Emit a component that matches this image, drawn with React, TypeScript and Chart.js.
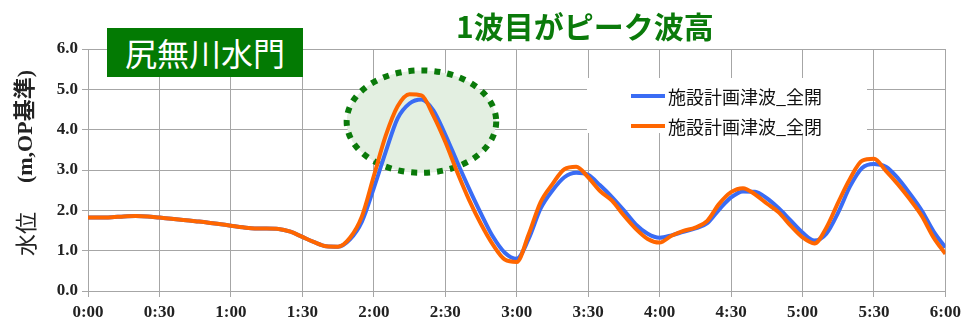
import React, { useEffect, useRef } from "react";
import { Chart, registerables } from "chart.js";

Chart.register(...registerables);

const minutes: number[] = [
  0, 5, 10, 15, 20, 25, 30, 35, 40, 45, 50, 55, 60, 65, 70, 75, 80, 85, 90, 95, 100, 105,
  110, 115, 120, 125, 130, 135, 140, 145, 150, 155, 160, 165, 170, 175, 180, 185, 190, 195,
  200, 205, 210, 215, 220, 225, 230, 235, 240, 245, 250, 255, 260, 265, 270, 275, 280, 285,
  290, 295, 300, 305, 310, 315, 320, 325, 330, 335, 340, 345, 350, 355, 360,
];

const seriesOpen: number[] = [
  1.82, 1.82, 1.83, 1.85, 1.86, 1.85, 1.82, 1.79, 1.76, 1.73, 1.7, 1.66, 1.62, 1.58, 1.55, 1.55,
  1.54, 1.47, 1.34, 1.21, 1.11, 1.1, 1.28, 1.72, 2.55, 3.45, 4.28, 4.65, 4.75, 4.48, 3.88, 3.2,
  2.54, 1.92, 1.35, 0.95, 0.8, 1.29, 2.04, 2.49, 2.82, 2.93, 2.88, 2.62, 2.33, 2.0, 1.65, 1.42,
  1.32, 1.38, 1.47, 1.55, 1.68, 2.02, 2.32, 2.47, 2.46, 2.3, 2.05, 1.75, 1.45, 1.25, 1.42, 1.95,
  2.6, 3.05, 3.15, 3.08, 2.8, 2.42, 2.0, 1.48, 1.08,
];

const seriesClosed: number[] = [
  1.82, 1.82, 1.83, 1.85, 1.86, 1.85, 1.82, 1.79, 1.76, 1.73, 1.7, 1.66, 1.62, 1.58, 1.55, 1.55,
  1.54, 1.47, 1.34, 1.21, 1.11, 1.1, 1.32, 1.85, 2.85, 3.85, 4.58, 4.88, 4.85, 4.35, 3.7, 2.95,
  2.26, 1.66, 1.15, 0.78, 0.72, 1.4, 2.2, 2.65, 3.02, 3.08, 2.82, 2.48, 2.24, 1.87, 1.54, 1.29,
  1.2, 1.37, 1.49, 1.57, 1.74, 2.16, 2.45, 2.55, 2.4, 2.17, 1.95, 1.62, 1.33, 1.18, 1.57, 2.2,
  2.79, 3.23, 3.28, 2.98, 2.65, 2.28, 1.87, 1.33, 0.92,
];

const seriesNames: string[] = ["施設計画津波_全開", "施設計画津波_全閉"];
const seriesColors: string[] = ["#3a6cf4", "#ff6600"];
const chartTitle = "1波目がピーク波高";
const locationLabel = "尻無川水門";
const yAxisTitleMain = "水位";
const yAxisTitleUnit = "(m,OP基準)";

// annotation ellipse around the first peak (data coordinates)
const ellipseCenter = { x: 140, y: 4.2 };
const ellipseRadius = { x: 31.4, y: 1.27 };

const tickFont = { family: "'Liberation Serif', 'Times New Roman', serif", size: 17, weight: "bold" as const };

function fmtTime(v: number): string {
  const h = Math.floor(v / 60);
  const m = Math.round(v % 60);
  return `${h}:${m.toString().padStart(2, "0")}`;
}

const ellipsePlugin = {
  id: "peakEllipse",
  beforeDatasetsDraw(chart: any) {
    const { ctx, scales } = chart;
    const xs = scales.x;
    const ys = scales.y;
    const cx = xs.getPixelForValue(ellipseCenter.x);
    const cy = ys.getPixelForValue(ellipseCenter.y);
    const rx = Math.abs(xs.getPixelForValue(ellipseCenter.x + ellipseRadius.x) - cx);
    const ry = Math.abs(ys.getPixelForValue(ellipseCenter.y + ellipseRadius.y) - cy);
    ctx.save();
    ctx.beginPath();
    ctx.ellipse(cx, cy, rx, ry, 0, 0, Math.PI * 2);
    ctx.fillStyle = "#e3efe1";
    ctx.fill();
    ctx.setLineDash([6, 7]);
    ctx.lineWidth = 6;
    ctx.strokeStyle = "#0a7a0a";
    ctx.stroke();
    ctx.restore();
  },
};

const yTitlePlugin = {
  id: "yTitle",
  afterDraw(chart: any) {
    const { ctx } = chart;
    ctx.save();
    ctx.translate(26, 256);
    ctx.rotate(-Math.PI / 2);
    ctx.fillStyle = "#222";
    ctx.textBaseline = "middle";
    ctx.textAlign = "left";
    ctx.font = "22px 'Noto Sans CJK JP', sans-serif";
    ctx.fillText(yAxisTitleMain, 0, 0);
    ctx.textAlign = "right";
    ctx.font = "bold 22px 'Liberation Serif', 'Noto Sans CJK JP', serif";
    ctx.fillText(yAxisTitleUnit, 186, 0);
    ctx.restore();
  },
};

export default function App() {
  const canvasRef = useRef<HTMLCanvasElement | null>(null);

  useEffect(() => {
    if (!canvasRef.current) return;
    const chart = new Chart(canvasRef.current, {
      type: "line",
      data: {
        datasets: [
          {
            label: seriesNames[0],
            data: minutes.map((m, i) => ({ x: m, y: seriesOpen[i] })),
            borderColor: seriesColors[0],
            backgroundColor: seriesColors[0],
            borderWidth: 4,
            pointRadius: 0,
            cubicInterpolationMode: "monotone",
            order: 1,
          },
          {
            label: seriesNames[1],
            data: minutes.map((m, i) => ({ x: m, y: seriesClosed[i] })),
            borderColor: seriesColors[1],
            backgroundColor: seriesColors[1],
            borderWidth: 4,
            pointRadius: 0,
            cubicInterpolationMode: "monotone",
            order: 0,
          },
        ],
      },
      options: {
        animation: false,
        responsive: false,
        maintainAspectRatio: false,
        layout: { padding: { top: 49, right: 19, left: 0, bottom: 0 } },
        plugins: { legend: { display: false }, tooltip: { enabled: false }, title: { display: false } },
        scales: {
          x: {
            type: "linear",
            min: 0,
            max: 360,
            ticks: {
              stepSize: 30,
              color: "#222",
              font: tickFont,
              padding: 5,
              maxRotation: 0,
              callback: (v: any) => fmtTime(Number(v)),
            },
            grid: { color: "#a6a6a6", lineWidth: 1, tickLength: 6 },
            border: { color: "#a6a6a6" },
            afterFit: (s: any) => {
              s.height = 31;
            },
          },
          y: {
            min: 0,
            max: 6,
            ticks: {
              stepSize: 1,
              color: "#222",
              font: tickFont,
              padding: 4,
              callback: (v: any) => Number(v).toFixed(1),
            },
            grid: { color: "#a6a6a6", lineWidth: 1, tickLength: 6 },
            border: { color: "#a6a6a6" },
            afterFit: (s: any) => {
              s.width = 88;
            },
          },
        },
      },
      plugins: [ellipsePlugin, yTitlePlugin],
    } as any);
    return () => chart.destroy();
  }, []);

  const cjk = "'Noto Sans CJK JP', 'Noto Sans', sans-serif";

  return (
    <div style={{ position: "relative", width: 966, height: 322, overflow: "hidden", background: "#fff" }}>
      <style>{"body{margin:0}"}</style>
      <canvas ref={canvasRef} width={966} height={322} style={{ position: "absolute", left: 0, top: 0 }} />
      <div
        style={{
          position: "absolute",
          left: 456,
          top: 7,
          fontFamily: cjk,
          fontSize: 30,
          fontWeight: "bold",
          color: "#0a7a0a",
          lineHeight: "36px",
          whiteSpace: "nowrap",
        }}
      >
        {chartTitle}
      </div>
      <div
        style={{
          position: "absolute",
          left: 107,
          top: 28,
          width: 196,
          height: 49,
          background: "#037a03",
          color: "#fff",
          fontFamily: cjk,
          fontSize: 32,
          lineHeight: "49px",
          textAlign: "center",
          whiteSpace: "nowrap",
        }}
      >
        {locationLabel}
      </div>
      <div
        style={{
          position: "absolute",
          left: 587,
          top: 78,
          width: 280,
          height: 55,
          background: "#fff",
        }}
      >
        {seriesNames.map((name, i) => (
          <div
            key={i}
            style={{
              position: "absolute",
              left: 44,
              top: 6 + i * 30,
              height: 24,
              display: "flex",
              alignItems: "center",
              whiteSpace: "nowrap",
            }}
          >
            <span style={{ display: "inline-block", width: 34, height: 4, background: seriesColors[i], marginRight: 3 }} />
            <span style={{ fontFamily: cjk, fontSize: 18, color: "#111", lineHeight: "24px" }}>{name}</span>
          </div>
        ))}
      </div>
    </div>
  );
}
